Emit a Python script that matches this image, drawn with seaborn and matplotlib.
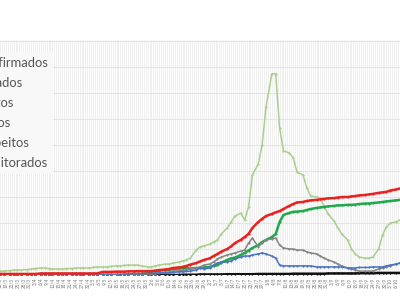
import numpy as np
import pandas as pd
import matplotlib
matplotlib.use("Agg")
import matplotlib.pyplot as plt
import matplotlib.dates as mdates
import seaborn as sns

# ---- data (91 samples, every ~2.3 days) ----
start = "2020-03-16"
n_days = 207
n_samples = 91

confirmados = [4,4,4,4,4,4,4,4,4,6,6,6,6,6,6,6,6,6,6,6,6,6,6,12,12,12,13,13,13,14,14,15,15,15,
               15,17,19,21,23,27,29,31,35,40,46,52,58,64,73,81,90,100,110,123,135,146,158,181,204,216,
               227,235,241,246,254,266,273,279,281,285,287,289,291,293,295,296,298,300,300,302,304,306,
               308,310,312,316,318,320,325,329,333]
curados = [0]*32 + [4,8,12,15,17,19,21,23,25,27,27,25,27,27,29,31,35,38,48,58,64,67,77,85,94,104,115,127,
           135,146,158,204,231,239,243,244,246,250,254,258,260,262,264,266,268,268,270,270,271,273,275,
           275,277,279,281,283,285,287,289]
obitos = [0]*41 + [1,1,1,1,2,2,2,2,2,2,3,3,3,3,3,3,3,4,4,4,4,4,4,4,4,5,5,5,5,5,5,5,5,6,6,6,6,6,6,6,
          7,7,7,7,8,8,8,8,8,8]
ativos = [0]*29 + [4,6,6,6,7,7,7,8,8,8,10,12,13,14,15,19,27,23,27,38,46,50,50,54,62,69,73,73,77,81,85,81,
          73,65,38,35,35,35,35,35,35,35,31,31,31,31,31,31,31,27,27,27,29,29,29,31,31,31,35,38,42,46]
suspeitos = [0]*28 + [4,4,4,4,4,4,4,4,8,10,12,15,17,19,21,23,27,31,38,42,50,62,69,77,81,85,92,96,123,142,
             108,123,135,139,142,115,104,100,100,96,96,89,85,81,73,65,58,50,42,35,27,23,19,15,15,15,15,
             23,27,31,35,42,46]
monitorados = [15,15,17,19,19,19,21,23,25,27,27,25,23,23,23,25,25,27,27,27,27,29,31,31,31,33,35,35,37,38,
               38,38,35,31,31,35,38,42,42,46,50,54,58,65,96,108,112,119,127,135,158,181,204,227,238,212,
               262,385,427,500,646,774,774,566,477,470,450,396,385,335,304,300,296,262,235,208,181,158,
               135,100,81,69,65,65,69,100,154,185,200,204,212]

series_names = ["Confirmados", "Curados", "Óbitos", "Ativos", "Suspeitos", "Monitorados"]
colors = ["#e8231f", "#1fa84c", "#111111", "#4a72c0", "#858585", "#a9cf8c"]

all_dates = pd.date_range(start, periods=n_days, freq="D")
idx = np.round(np.linspace(0, n_days - 1, n_samples)).astype(int)
sample_dates = all_dates[idx]

values = [confirmados, curados, obitos, ativos, suspeitos, monitorados]
frames = []
for name, v in zip(series_names, values):
    frames.append(pd.DataFrame({"data": sample_dates, "valor": v, "serie": name}))
df = pd.concat(frames, ignore_index=True)

# ---- figure ----
sns.set_theme(style="white")
plt.rcParams["font.family"] = ["Lato", "DejaVu Sans"]

fig = plt.figure(figsize=(4, 3), dpi=100)
ax = fig.add_axes([0, 25 / 300, 1, 235 / 300])

zorders = {"Óbitos": 2, "Monitorados": 3, "Curados": 4, "Suspeitos": 5, "Ativos": 6, "Confirmados": 7}
palette = dict(zip(series_names, colors))
sns.lineplot(data=df, x="data", y="valor", hue="serie", hue_order=series_names,
             palette=palette, ax=ax, marker="o", markersize=1.6, markeredgewidth=0,
             linewidth=1.1, legend=False, estimator=None)

for line, name in zip(ax.lines, series_names):
    if name in ("Confirmados", "Curados"):
        line.set_linewidth(1.8)
    if name == "Óbitos":
        line.set_linewidth(1.8)
    line.set_zorder(zorders[name])

ax.set_xlim(all_dates[0], all_dates[-1])
ax.set_ylim(0, 904)
ax.set_yticks(np.arange(0, 901, 100))
ax.set_yticklabels([])
ax.tick_params(axis="y", length=0)

ax.xaxis.set_major_locator(mdates.DayLocator(interval=3))
ax.xaxis.set_minor_locator(mdates.DayLocator(interval=1))
ax.xaxis.set_major_formatter(mdates.DateFormatter("%-d/%-m"))
ax.tick_params(axis="x", which="both", length=0, labelsize=3.3, labelcolor="#777777",
               pad=2, rotation=90)

ax.grid(True, axis="y", color="#e4e4e4", linewidth=0.8)
ax.grid(True, axis="x", which="both", color="#ececec", linewidth=0.6)
ax.set_axisbelow(True)
for s in ax.spines.values():
    s.set_visible(False)
ax.set_xlabel("")
ax.set_ylabel("")

# legend (left part is cut off by the figure edge, as in the reference)
handles = [plt.Line2D([], [], color=c, linewidth=1.8) for c in colors]
fs = 9.4
fs_px = fs * 100 / 72
pad_units = 0 + 0.4 + 1.5 + 0.5
x_anchor = (-25 - pad_units * fs_px) / 400
leg = fig.legend(handles, series_names, loc="upper left",
                 bbox_to_anchor=(x_anchor, (300 - 52) / 300), bbox_transform=fig.transFigure,
                 fontsize=fs, frameon=True, facecolor="#f8f8f8", edgecolor="none",
                 framealpha=1, borderaxespad=0, borderpad=0.4, handlelength=1.5,
                 handletextpad=0.5, labelspacing=0.6, fancybox=False, labelcolor="#555555")

fig.savefig("out.png", dpi=100)
